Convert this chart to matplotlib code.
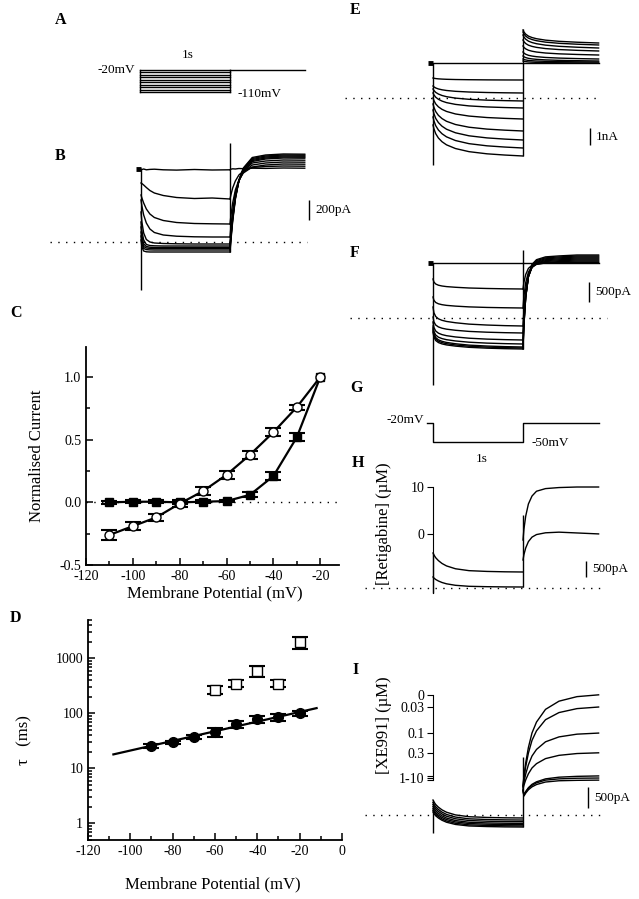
import numpy as np
import matplotlib
matplotlib.use('Agg')
import matplotlib.pyplot as plt
from matplotlib.ticker import MultipleLocator, LogLocator, NullFormatter

plt.rcParams['font.family'] = ['Liberation Serif', 'DejaVu Serif']
plt.rcParams['axes.unicode_minus'] = False
plt.rcParams['mathtext.fontset'] = 'stix'

W, H = 639, 899

# ---------------- data ----------------
# A: voltage protocol (mV)
A_levels = [-20, -30, -40, -50, -60, -70, -80, -90, -100, -110]
A_hold = -20

# common sample times (s) for the current traces
ts = [0, 0.01, 0.03, 0.06, 0.1, 0.15, 0.25, 0.4, 0.6, 0.8, 1.0]
tt = [1.0, 1.01, 1.03, 1.06, 1.1, 1.15, 1.25, 1.4, 1.6, 1.84]
pre_t = [-0.06, 0]

# B: currents (pA), steps -20 ... -110 mV
B_hold = 730
B_step = [
    [730, 725, 730, 722, 726, 728, 722, 719, 725, 720, 722],
    [590, 585, 570, 545, 515, 490, 465, 445, 435, 440, 430],
    [470, 440, 390, 330, 280, 245, 215, 195, 185, 182, 180],
    [420, 360, 270, 190, 130, 95, 70, 58, 52, 50, 50],
    [300, 200, 90, 25, 0, -10, -15, -18, -20, -20, -20],
    [200, 110, 20, -25, -35, -38, -40, -40, -40, -40, -40],
    [150, 60, -20, -45, -52, -55, -55, -55, -55, -55, -55],
    [100, 20, -45, -60, -64, -65, -65, -65, -65, -65, -65],
    [60, -20, -65, -76, -79, -80, -80, -80, -80, -80, -80],
    [20, -50, -90, -98, -100, -100, -100, -100, -100, -100, -100],
]
B_tail = [
    [722, 728, 732, 730, 735, 733, 738, 736, 740, 738],
    [430, 470, 540, 610, 670, 710, 745, 755, 760, 758],
    [180, 260, 390, 520, 620, 690, 750, 770, 780, 778],
    [50, 150, 310, 480, 610, 700, 770, 790, 800, 798],
    [-20, 90, 270, 460, 610, 710, 790, 810, 820, 818],
    [-40, 70, 255, 455, 615, 720, 805, 830, 840, 838],
    [-55, 55, 240, 445, 615, 725, 815, 840, 850, 848],
    [-65, 45, 230, 440, 615, 730, 825, 850, 860, 858],
    [-80, 30, 220, 435, 615, 735, 835, 860, 870, 868],
    [-100, 10, 205, 425, 615, 740, 845, 870, 880, 878],
]
B_cap = (-480, 990)

# C: normalised current vs membrane potential (no error bar at -20 mV)
C_v = [-110, -100, -90, -80, -70, -60, -50, -40, -30, -20]
C_open = [-0.26, -0.19, -0.12, -0.01, 0.09, 0.22, 0.38, 0.56, 0.76, 1.0]
C_open_err = [0.04, 0.03, 0.03, 0.03, 0.03, 0.03, 0.03, 0.03, 0.02, np.nan]
C_fill = [0.0, 0.005, 0.005, 0.0, 0.005, 0.01, 0.06, 0.21, 0.52, 1.0]
C_fill_err = [0.01, 0.01, 0.01, 0.01, 0.01, 0.01, 0.02, 0.03, 0.03, np.nan]

# D: time constants
D_v_fast = [-90, -80, -70, -60, -50, -40, -30, -20]
D_tau_fast = [26, 30, 38, 46, 64, 78, 85, 100]
D_tau_fast_err = [2, 2, 3, 8, 9, 10, 11, 12]
D_v_slow = [-60, -50, -40, -30, -20]
D_tau_slow = [270, 350, 600, 350, 2000]
D_tau_slow_err = [40, 50, 140, 50, 500]
D_fit_v = [-108, -12]
D_fit_tau = [18, 125]

# E
E_hold = 2058
E_step = [
    [2058] * 11,
    [1176, 1162, 1143, 1126, 1112, 1100, 1086, 1075, 1066, 1061, 1058],
    [705, 656, 590, 532, 483, 442, 393, 352, 323, 306, 294],
    [529, 444, 332, 233, 148, 78, -7, -77, -127, -155, -176],
    [294, 188, 47, -76, -182, -271, -376, -465, -526, -561, -588],
    [0, -148, -346, -519, -667, -790, -939, -1062, -1149, -1198, -1235],
    [-353, -543, -797, -1020, -1210, -1369, -1559, -1718, -1829, -1892, -1940],
    [-705, -917, -1199, -1446, -1658, -1835, -2046, -2223, -2346, -2417, -2470],
    [-1117, -1336, -1627, -1883, -2101, -2284, -2502, -2685, -2812, -2885, -2940],
    [-1587, -1806, -2097, -2353, -2571, -2754, -2972, -3155, -3282, -3355, -3410],
]
E_tail = [
    [2058] * 10,
    [2176, 2158, 2138, 2121, 2108, 2097, 2084, 2073, 2065, 2058],
    [2293, 2267, 2237, 2210, 2191, 2175, 2156, 2140, 2128, 2117],
    [2470, 2426, 2376, 2332, 2299, 2273, 2241, 2214, 2194, 2176],
    [2705, 2643, 2573, 2511, 2466, 2429, 2384, 2347, 2318, 2293],
    [3058, 2978, 2888, 2809, 2751, 2703, 2645, 2597, 2560, 2528],
    [3410, 3313, 3203, 3106, 3035, 2977, 2906, 2848, 2803, 2764],
    [3704, 3589, 3460, 3345, 3261, 3192, 3108, 3039, 2986, 2940],
    [3881, 3766, 3637, 3522, 3438, 3369, 3285, 3216, 3163, 3117],
    [3998, 3883, 3754, 3639, 3555, 3486, 3402, 3333, 3280, 3234],
]
E_cap = (-3940, 4057)

# F
F_hold = 1375
F_step = [
    [1375] * 11,
    [975, 900, 850, 820, 800, 785, 768, 750, 738, 730, 725],
    [525, 443, 388, 355, 333, 316, 297, 278, 264, 256, 250],
    [275, 133, 38, -20, -58, -86, -119, -153, -176, -191, -200],
    [25, -95, -175, -223, -255, -279, -307, -335, -355, -367, -375],
    [-100, -235, -325, -379, -415, -442, -474, -505, -528, -541, -550],
    [-200, -335, -425, -479, -515, -542, -574, -605, -628, -641, -650],
    [-250, -393, -488, -545, -583, -611, -644, -678, -701, -716, -725],
    [-300, -435, -525, -579, -615, -642, -674, -705, -728, -741, -750],
    [-350, -478, -563, -614, -648, -673, -703, -733, -754, -767, -775],
]
F_tail = [
    [1375] * 10,
    [725, 890, 1088, 1240, 1319, 1352, 1372, 1378, 1385, 1385],
    [250, 538, 883, 1147, 1285, 1343, 1377, 1389, 1400, 1400],
    [-200, 206, 694, 1068, 1263, 1344, 1393, 1409, 1425, 1425],
    [-375, 81, 629, 1049, 1268, 1359, 1414, 1432, 1450, 1450],
    [-550, -44, 564, 1030, 1273, 1374, 1435, 1455, 1475, 1475],
    [-650, -113, 533, 1027, 1285, 1393, 1457, 1479, 1500, 1500],
    [-725, -163, 513, 1030, 1300, 1413, 1480, 1503, 1525, 1525],
    [-750, -175, 515, 1044, 1320, 1435, 1504, 1527, 1550, 1550],
    [-775, -188, 518, 1058, 1340, 1458, 1528, 1552, 1575, 1575],
]
F_cap = (-1675, 1700)

# G: protocol
G_hold = -20
G_step = -50

# H: retigabine 10 and 0 uM
H_labels = ['10', '0']
H_step = [
    [1094, 1035, 946, 856, 767, 690, 601, 542, 518, 506, 500],
    [344, 313, 266, 219, 172, 131, 84, 53, 41, 34, 31],
]
H_tail = [
    [1500, 1831, 2245, 2626, 2874, 3024, 3106, 3139, 3156, 3156],
    [875, 1040, 1250, 1450, 1590, 1670, 1725, 1745, 1720, 1690],
]
H_cap = (-156, 2281)

# I: XE991 0 ... 10 uM
I_labels = ['0', '0.03', '0.1', '0.3', '', '1-10', '']
I_step = [
    [357, 314, 250, 186, 122, 66, 2, -41, -58, -67, -71],
    [300, 258, 195, 132, 69, 14, -49, -91, -107, -116, -120],
    [250, 209, 148, 86, 25, -29, -90, -131, -148, -156, -160],
    [200, 160, 100, 40, -20, -72, -132, -172, -188, -196, -200],
    [150, 112, 55, -2, -59, -108, -165, -203, -219, -226, -230],
    [110, 73, 18, -38, -94, -142, -197, -234, -249, -256, -260],
    [71, 35, -18, -72, -125, -172, -225, -261, -275, -283, -286],
]
I_tail = [
    [700, 916, 1240, 1607, 1953, 2212, 2514, 2709, 2817, 2860],
    [680, 869, 1153, 1474, 1776, 2003, 2268, 2438, 2532, 2570],
    [650, 780, 975, 1196, 1404, 1560, 1742, 1859, 1924, 1950],
    [620, 706, 835, 981, 1119, 1222, 1342, 1420, 1463, 1480],
    [600, 480, 560, 650, 730, 790, 860, 900, 920, 930],
    [590, 470, 545, 630, 705, 765, 830, 860, 875, 880],
    [580, 450, 520, 600, 670, 725, 785, 815, 825, 830],
]
I_cap = (-428, 1380)

# ---------------- layout helpers ----------------
fig = plt.figure(figsize=(W / 100, H / 100), dpi=100)


def px_axes(l, t, r, b):
    return fig.add_axes([l / W, 1 - b / H, (r - l) / W, (b - t) / H])


def trace_axes(box, t0_px, s_px, zero_px, unit_per_px):
    l, t, r, b = box
    ax = px_axes(l, t, r, b)
    ax.set_xlim((l - t0_px) / s_px, (r - t0_px) / s_px)
    ax.set_ylim((zero_px - b) * unit_per_px, (zero_px - t) * unit_per_px)
    ax.axis('off')
    return ax


def letter(x, y, s):
    fig.text(x / W, 1 - y / H, s, fontsize=11.5, fontweight='bold', ha='left', va='center')


dots = (0, (1, 4.6))
lw = 1.0


def draw_traces(ax, hold, steps, tails, cap, pre=True):
    for st, tl in zip(steps, tails):
        ax.plot(ts, st, color='k', lw=lw)
        ax.plot(tt, tl, color='k', lw=lw)
    if pre:
        ax.plot(pre_t, [hold, hold], color='k', lw=3.5, solid_capstyle='butt')
    ax.vlines(0, cap[0], max(s[0] for s in steps), color='k', lw=lw)
    ax.vlines(1, min(s[-1] for s in steps), cap[1], color='k', lw=lw)


def scale_bar(ax, t, y0, y1, label):
    ax.vlines(t, y0, y1, color='k', lw=1)
    ax.text(t + 0.07, (y0 + y1) / 2, label, fontsize=9.5, va='center', ha='left')


def conc_axis(ax, bounds, ticks, labels, name, label_xy):
    ax.axis('on')
    for s in ('top', 'right', 'bottom'):
        ax.spines[s].set_visible(False)
    ax.spines['left'].set_position(('data', 0))
    ax.spines['left'].set_bounds(*bounds)
    ax.set_xticks([])
    ax.set_yticks(ticks)
    ax.set_yticklabels(labels)
    ax.tick_params(axis='y', direction='out', length=4, labelsize=10, pad=2)
    ax.patch.set_visible(False)
    ax.set_ylabel(name, fontsize=12)
    ax.yaxis.set_label_coords(*label_xy)


# ---------------- A ----------------
axA = trace_axes((40, 30, 330, 110), 140, 90, 65.1, 4.09)
for v in A_levels:
    axA.plot([0, 1], [v, v], color='k', lw=lw)
axA.plot([0, 0], [min(A_levels), A_hold], color='k', lw=lw)
axA.plot([1, 1], [min(A_levels), A_hold], color='k', lw=lw)
axA.plot([1, 1.83], [A_hold, A_hold], color='k', lw=lw)
axA.text(-0.05, A_hold, '%dmV' % A_hold, fontsize=9.5, ha='right', va='center')
axA.text(1.08, min(A_levels) - 10, '%dmV' % min(A_levels), fontsize=9.5, ha='left', va='center')
axA.text(0.53, A_hold + 60, '1s', fontsize=9.5, ha='center', va='center')
letter(55, 20, 'A')

# ---------------- B ----------------
axB = trace_axes((40, 130, 330, 300), 141, 89, 242, 10)
draw_traces(axB, B_hold, B_step, B_tail, B_cap)
axB.plot([-1.02, 1.87], [0, 0], color='k', lw=1, ls=dots)
scale_bar(axB, 1.89, 220, 420, '200pA')
letter(55, 156, 'B')

# ---------------- C ----------------
axC = px_axes(86, 347, 339, 565)
axC.plot(C_v, C_fill, color='k', lw=1.6, zorder=2)
axC.plot(C_v, C_open, color='k', lw=1.6, zorder=2)
axC.errorbar(C_v, C_fill, yerr=C_fill_err, fmt='s', mfc='k', mec='k', ms=6,
             ecolor='k', elinewidth=1.2, capsize=6, capthick=1.5, zorder=3)
axC.errorbar(C_v, C_open, yerr=C_open_err, fmt='o', mfc='white', mec='k', ms=6.5,
             ecolor='k', elinewidth=1.2, capsize=6, capthick=1.5, zorder=4)
axC.axhline(0, color='k', lw=1, ls=dots, zorder=1)
axC.set_xlim(-120, -12)
axC.set_ylim(-0.5, 1.24)
axC.set_xticks([-120, -100, -80, -60, -40, -20])
axC.xaxis.set_minor_locator(MultipleLocator(10))
axC.set_yticks([-0.5, 0.0, 0.5, 1.0])
axC.yaxis.set_minor_locator(MultipleLocator(0.25))
axC.set_xlabel('Membrane Potential (mV)', fontsize=12)
axC.set_ylabel('Normalised Current', fontsize=12)
axC.xaxis.set_label_coords(0.51, -0.092)
axC.yaxis.set_label_coords(-0.162, 0.5)
letter(10, 313, 'C')

# ---------------- D ----------------
axD = px_axes(88, 620, 342, 840)
axD.plot(D_fit_v, D_fit_tau, color='k', lw=1.6, zorder=2)
axD.errorbar(D_v_fast, D_tau_fast, yerr=D_tau_fast_err, fmt='o', mfc='k', mec='k', ms=7,
             ecolor='k', elinewidth=1.2, capsize=6, capthick=1.5, zorder=3)
axD.errorbar(D_v_slow, D_tau_slow, yerr=D_tau_slow_err, fmt='s', mfc='white', mec='k', ms=6.5,
             ecolor='k', elinewidth=1.2, capsize=6, capthick=1.5, zorder=3)
axD.set_yscale('log')
axD.set_xlim(-120, 0)
axD.set_ylim(0.5, 5000)
axD.set_xticks([-120, -100, -80, -60, -40, -20, 0])
axD.xaxis.set_minor_locator(MultipleLocator(10))
axD.set_yticks([1, 10, 100, 1000])
axD.set_yticklabels(['1', '10', '100', '1000'])
axD.yaxis.set_minor_locator(LogLocator(base=10, subs=np.arange(2, 10)))
axD.yaxis.set_minor_formatter(NullFormatter())
axD.set_xlabel('Membrane Potential (mV)', fontsize=12)
axD.set_ylabel('\u03c4   (ms)', fontsize=12)
axD.xaxis.set_label_coords(0.49, -0.164)
axD.yaxis.set_label_coords(-0.217, 0.455)
letter(10, 618, 'D')

for ax in (axC, axD):
    for s in ('top', 'right'):
        ax.spines[s].set_visible(False)
    for s in ('left', 'bottom'):
        ax.spines[s].set_linewidth(1.3)
    ax.tick_params(which='both', direction='in', labelsize=10, width=1.1)
    ax.tick_params(which='major', length=5)
    ax.tick_params(which='minor', length=3)
    ax.patch.set_visible(False)

# ---------------- E ----------------
axE = trace_axes((340, 20, 630, 180), 433, 90, 98, 58.8)
draw_traces(axE, E_hold, E_step, E_tail, E_cap)
axE.plot([-0.98, 1.84], [0, 0], color='k', lw=1, ls=dots)
scale_bar(axE, 1.744, -2764, -1764, '1nA')
letter(350, 10, 'E')

# ---------------- F ----------------
axF = trace_axes((340, 245, 630, 395), 433, 90, 318, 25)
draw_traces(axF, F_hold, F_step, F_tail, F_cap)
axF.plot([-0.92, 1.93], [0, 0], color='k', lw=1, ls=dots)
scale_bar(axF, 1.733, 400, 900, '500pA')
letter(350, 253, 'F')

# ---------------- G ----------------
axG = trace_axes((340, 405, 630, 470), 433, 90, 410.3, 1.579)
axG.plot([-0.067, 0, 0, 1, 1, 1.84], [G_hold, G_hold, G_step, G_step, G_hold, G_hold],
         color='k', lw=lw)
axG.text(-0.1, G_hold + 5, '%dmV' % G_hold, fontsize=9.5, ha='right', va='center')
axG.text(1.1, G_step - 1, '%dmV' % G_step, fontsize=9.5, ha='left', va='center')
axG.text(0.54, G_step - 27, '1s', fontsize=9.5, ha='center', va='center')
letter(350, 388, 'G')

# ---------------- H ----------------
axH = trace_axes((340, 475, 630, 600), 433, 90, 588, 31.25)
draw_traces(axH, 0, H_step, H_tail, H_cap, pre=False)
axH.plot([-0.76, 1.88], [0, 0], color='k', lw=1, ls=dots)
scale_bar(axH, 1.70, 344, 844, '500pA')
conc_axis(axH, (H_cap[0], H_tail[0][-1]), [tl[-1] for tl in H_tail], H_labels,
          '[Retigabine] (\u00b5M)', (0.179, 0.608))
letter(352, 463, 'H')

# ---------------- I ----------------
axI = trace_axes((340, 680, 630, 840), 433, 90, 815, 23.8)
draw_traces(axI, 0, I_step, I_tail, I_cap, pre=False)
axI.plot([-0.76, 1.88], [0, 0], color='k', lw=1, ls=dots)
scale_bar(axI, 1.72, 167, 666, '500pA')
finals = [tl[-1] for tl in I_tail]
conc_axis(axI, (min(finals), max(finals)), finals, I_labels,
          '[XE991] (\u00b5M)', (0.179, 0.719))
letter(352, 670, 'I')

fig.savefig('out.png', dpi=100)
